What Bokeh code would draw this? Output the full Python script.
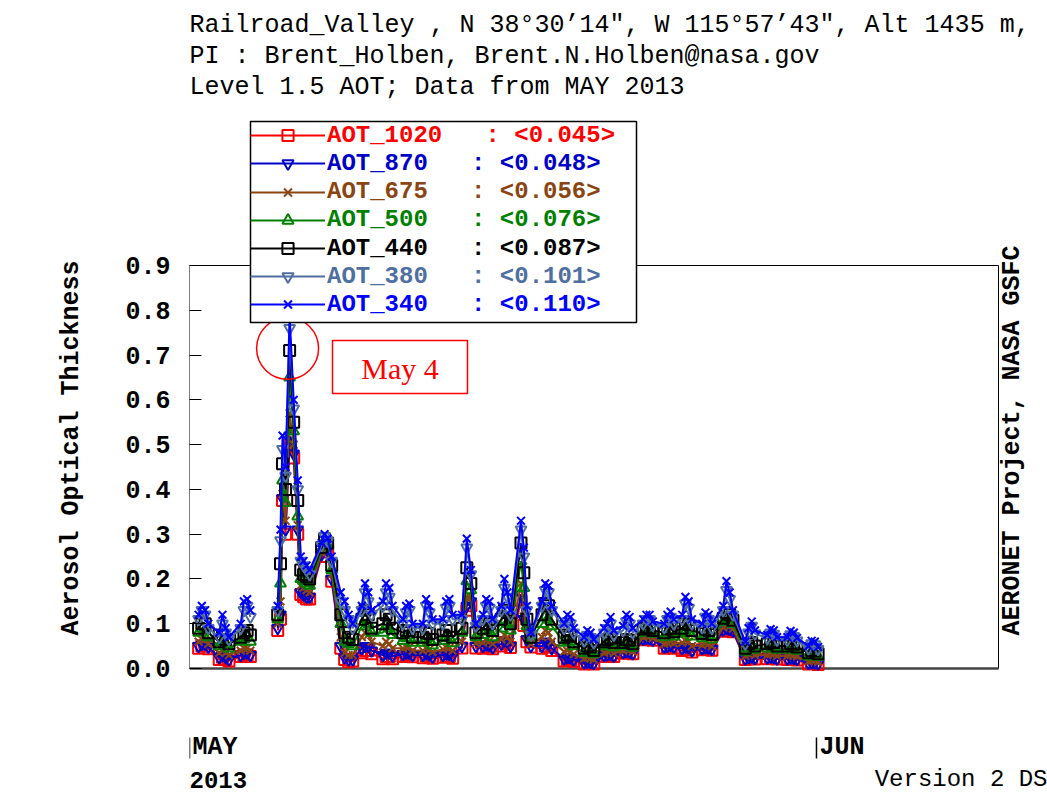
import math
import pandas as pd
from bokeh.plotting import figure
from bokeh.models import (Range1d, FixedTicker, PrintfTickFormatter, Title, Label,
                          Legend, LegendItem, BoxAnnotation, PolyAnnotation)
from bokeh.embed import file_html
from bokeh.resources import INLINE

# ---------------- texts ----------------
title_lines = [
    "Railroad_Valley , N 38\u00b030\u201914\", W 115\u00b057\u201943\", Alt 1435 m,",
    "PI : Brent_Holben, Brent.N.Holben@nasa.gov",
    "Level 1.5 AOT; Data from MAY 2013",
]
y_axis_title = "Aerosol Optical Thickness"
side_note = "AERONET Project, NASA GSFC"
version_note = "Version 2 DS"
year_label = "2013"
annot_text = "May 4"

# ---------------- axes ----------------
y_ticks = [0.0, 0.1, 0.2, 0.3, 0.4, 0.5, 0.6, 0.7, 0.8, 0.9]
x_tick_dates = ["2013-05-01", "2013-06-01"]
x_tick_labels = ["MAY", "JUN"]
x_box_start = "2013-05-01"
x_box_end = "2013-06-10"

# ---------------- series ----------------
series_names = ["AOT_1020", "AOT_870", "AOT_675", "AOT_500", "AOT_440", "AOT_380", "AOT_340"]
series_means = [0.045, 0.048, 0.056, 0.076, 0.087, 0.101, 0.110]
series_colors = ["#ff0000", "#0000c8", "#8b4513", "#008000", "#000000", "#4f6fa0", "#0000ff"]
series_markers = ["square", "inverted_triangle", "x", "triangle", "square", "inverted_triangle", "x"]

# observation time, decimal day of May 2013 (UTC)
obs_day = [
    1.45, 1.61, 1.77, 1.93,
    2.47, 2.63, 2.79, 2.95,
    3.53, 3.69, 3.85, 4.01,
    5.36, 5.50, 5.60, 5.75, 5.95, 6.15, 6.35,
    6.50, 6.64, 6.79, 6.94,
    7.53, 7.68, 7.83, 8.03,
    8.48, 8.67, 8.87, 9.07,
    9.52, 9.68, 9.84, 10.00,
    10.56, 10.72, 10.88, 11.04,
    11.55, 11.71, 11.87, 12.03,
    12.54, 12.70, 12.86, 13.02,
    13.53, 13.69, 13.85, 14.01,
    14.47, 14.71, 14.91, 15.16,
    15.51, 15.67, 15.83, 15.99,
    16.42, 16.57, 16.72, 16.87,
    17.39, 17.53, 17.68, 17.88,
    18.43, 18.59, 18.75, 18.91,
    19.52, 19.68, 19.84, 20.00,
    20.51, 20.67, 20.83, 20.99,
    21.50, 21.66, 21.82, 21.98,
    22.44, 22.60, 22.76, 22.92,
    23.43, 23.59, 23.75, 23.91,
    24.47, 24.63, 24.79, 24.95,
    25.36, 25.52, 25.68, 25.84,
    26.35, 26.51, 26.67, 26.83,
    27.39, 27.55, 27.71, 27.87,
    28.48, 28.64, 28.80, 28.96,
    29.57, 29.73, 29.89, 30.05,
    30.56, 30.72, 30.88, 31.04,
    31.60, 31.76, 31.92, 32.08,
]

aot_1020 = [
    0.045, 0.050, 0.050, 0.044,
    0.020, 0.025, 0.020, 0.017,
    0.027, 0.030, 0.030, 0.027,
    0.085, 0.110, 0.375, 0.300, 0.500, 0.470, 0.300,
    0.165, 0.160, 0.155, 0.155,
    0.250, 0.270, 0.260, 0.195,
    0.045, 0.020, 0.015, 0.017,
    0.035, 0.040, 0.040, 0.033,
    0.022, 0.027, 0.027, 0.022,
    0.027, 0.030, 0.030, 0.026,
    0.024, 0.028, 0.026, 0.023,
    0.025, 0.028, 0.027, 0.023,
    0.046, 0.130, 0.140, 0.046,
    0.045, 0.048, 0.048, 0.044,
    0.050, 0.058, 0.055, 0.047,
    0.152, 0.096, 0.060, 0.048,
    0.045, 0.050, 0.048, 0.040,
    0.017, 0.020, 0.019, 0.016,
    0.010, 0.012, 0.011, 0.010,
    0.027, 0.029, 0.030, 0.027,
    0.034, 0.036, 0.035, 0.033,
    0.064, 0.066, 0.065, 0.063,
    0.045, 0.047, 0.048, 0.045,
    0.040, 0.043, 0.042, 0.037,
    0.042, 0.044, 0.043, 0.041,
    0.083, 0.086, 0.085, 0.082,
    0.020, 0.022, 0.024, 0.021,
    0.022, 0.024, 0.023, 0.021,
    0.020, 0.022, 0.021, 0.019,
    0.010, 0.011, 0.011, 0.009,
]

aot_870 = [
    0.050, 0.055, 0.055, 0.048,
    0.025, 0.030, 0.025, 0.020,
    0.030, 0.035, 0.035, 0.030,
    0.090, 0.120, 0.380, 0.310, 0.520, 0.480, 0.310,
    0.170, 0.165, 0.160, 0.160,
    0.255, 0.275, 0.265, 0.200,
    0.050, 0.025, 0.020, 0.020,
    0.045, 0.050, 0.050, 0.040,
    0.030, 0.035, 0.035, 0.028,
    0.032, 0.035, 0.035, 0.030,
    0.030, 0.033, 0.031, 0.026,
    0.030, 0.033, 0.032, 0.028,
    0.050, 0.140, 0.150, 0.050,
    0.050, 0.053, 0.052, 0.047,
    0.055, 0.062, 0.060, 0.050,
    0.165, 0.110, 0.065, 0.050,
    0.050, 0.060, 0.055, 0.045,
    0.022, 0.025, 0.024, 0.020,
    0.013, 0.015, 0.014, 0.012,
    0.029, 0.031, 0.032, 0.028,
    0.036, 0.038, 0.037, 0.034,
    0.066, 0.068, 0.067, 0.064,
    0.048, 0.050, 0.052, 0.048,
    0.045, 0.048, 0.047, 0.040,
    0.045, 0.047, 0.046, 0.043,
    0.086, 0.090, 0.088, 0.084,
    0.022, 0.025, 0.026, 0.023,
    0.024, 0.026, 0.025, 0.022,
    0.022, 0.024, 0.023, 0.021,
    0.012, 0.013, 0.013, 0.011,
]

aot_675 = [
    0.060, 0.065, 0.065, 0.055,
    0.035, 0.040, 0.035, 0.030,
    0.040, 0.045, 0.045, 0.040,
    0.100, 0.150, 0.390, 0.330, 0.570, 0.500, 0.320,
    0.185, 0.180, 0.175, 0.170,
    0.260, 0.280, 0.270, 0.210,
    0.070, 0.035, 0.030, 0.030,
    0.070, 0.080, 0.075, 0.060,
    0.050, 0.060, 0.055, 0.045,
    0.045, 0.048, 0.048, 0.040,
    0.040, 0.045, 0.043, 0.037,
    0.043, 0.047, 0.046, 0.040,
    0.060, 0.160, 0.160, 0.056,
    0.058, 0.063, 0.062, 0.055,
    0.065, 0.075, 0.070, 0.060,
    0.190, 0.130, 0.075, 0.055,
    0.070, 0.085, 0.080, 0.060,
    0.038, 0.040, 0.038, 0.032,
    0.022, 0.025, 0.023, 0.020,
    0.035, 0.038, 0.040, 0.034,
    0.040, 0.043, 0.042, 0.038,
    0.070, 0.073, 0.072, 0.068,
    0.055, 0.058, 0.060, 0.056,
    0.058, 0.062, 0.060, 0.050,
    0.052, 0.056, 0.055, 0.050,
    0.092, 0.097, 0.095, 0.089,
    0.028, 0.032, 0.034, 0.030,
    0.030, 0.033, 0.032, 0.028,
    0.028, 0.031, 0.030, 0.027,
    0.016, 0.018, 0.018, 0.015,
]

aot_500 = [
    0.080, 0.090, 0.085, 0.070,
    0.050, 0.060, 0.055, 0.045,
    0.060, 0.065, 0.070, 0.060,
    0.110, 0.190, 0.420, 0.370, 0.650, 0.530, 0.340,
    0.200, 0.195, 0.190, 0.185,
    0.265, 0.285, 0.275, 0.220,
    0.100, 0.060, 0.055, 0.050,
    0.095, 0.110, 0.100, 0.080,
    0.080, 0.095, 0.090, 0.075,
    0.062, 0.068, 0.068, 0.058,
    0.058, 0.065, 0.062, 0.052,
    0.062, 0.068, 0.068, 0.057,
    0.080, 0.195, 0.175, 0.070,
    0.075, 0.085, 0.083, 0.070,
    0.090, 0.105, 0.100, 0.085,
    0.240, 0.180, 0.095, 0.065,
    0.100, 0.115, 0.110, 0.095,
    0.058, 0.062, 0.060, 0.050,
    0.035, 0.040, 0.038, 0.032,
    0.050, 0.054, 0.056, 0.048,
    0.050, 0.055, 0.053, 0.047,
    0.080, 0.084, 0.083, 0.078,
    0.070, 0.076, 0.078, 0.072,
    0.078, 0.082, 0.080, 0.072,
    0.068, 0.074, 0.072, 0.065,
    0.105, 0.112, 0.110, 0.100,
    0.038, 0.045, 0.048, 0.042,
    0.045, 0.050, 0.048, 0.042,
    0.042, 0.047, 0.045, 0.040,
    0.027, 0.031, 0.030, 0.026,
]

aot_440 = [
    0.090, 0.100, 0.100, 0.080,
    0.060, 0.075, 0.065, 0.055,
    0.070, 0.080, 0.085, 0.075,
    0.120, 0.234, 0.457, 0.400, 0.710, 0.550, 0.375,
    0.220, 0.210, 0.205, 0.200,
    0.270, 0.290, 0.280, 0.230,
    0.120, 0.080, 0.070, 0.065,
    0.110, 0.130, 0.120, 0.090,
    0.100, 0.120, 0.110, 0.090,
    0.080, 0.085, 0.085, 0.070,
    0.070, 0.080, 0.078, 0.065,
    0.075, 0.085, 0.085, 0.070,
    0.090, 0.225, 0.190, 0.080,
    0.090, 0.100, 0.100, 0.085,
    0.110, 0.130, 0.125, 0.100,
    0.280, 0.214, 0.110, 0.070,
    0.120, 0.145, 0.140, 0.110,
    0.070, 0.075, 0.072, 0.060,
    0.045, 0.050, 0.048, 0.040,
    0.060, 0.065, 0.068, 0.058,
    0.058, 0.065, 0.063, 0.055,
    0.088, 0.092, 0.090, 0.085,
    0.080, 0.088, 0.090, 0.082,
    0.090, 0.100, 0.098, 0.085,
    0.078, 0.088, 0.085, 0.076,
    0.112, 0.125, 0.120, 0.108,
    0.045, 0.055, 0.058, 0.050,
    0.055, 0.060, 0.058, 0.050,
    0.050, 0.056, 0.054, 0.048,
    0.035, 0.040, 0.039, 0.033,
]

aot_380 = [
    0.110, 0.130, 0.120, 0.090,
    0.070, 0.100, 0.080, 0.065,
    0.090, 0.130, 0.140, 0.115,
    0.130, 0.286, 0.490, 0.430, 0.760, 0.580, 0.400,
    0.240, 0.230, 0.220, 0.210,
    0.275, 0.295, 0.285, 0.240,
    0.150, 0.130, 0.110, 0.090,
    0.130, 0.170, 0.150, 0.120,
    0.140, 0.170, 0.160, 0.130,
    0.100, 0.125, 0.130, 0.090,
    0.090, 0.140, 0.125, 0.100,
    0.100, 0.135, 0.140, 0.110,
    0.110, 0.270, 0.210, 0.095,
    0.110, 0.140, 0.135, 0.100,
    0.130, 0.180, 0.160, 0.120,
    0.310, 0.250, 0.130, 0.075,
    0.140, 0.175, 0.170, 0.130,
    0.090, 0.105, 0.100, 0.080,
    0.062, 0.075, 0.070, 0.058,
    0.080, 0.090, 0.100, 0.075,
    0.085, 0.105, 0.100, 0.080,
    0.100, 0.110, 0.110, 0.097,
    0.092, 0.110, 0.115, 0.100,
    0.110, 0.145, 0.135, 0.100,
    0.092, 0.115, 0.110, 0.090,
    0.130, 0.175, 0.155, 0.120,
    0.055, 0.080, 0.095, 0.078,
    0.068, 0.080, 0.077, 0.064,
    0.064, 0.076, 0.072, 0.062,
    0.045, 0.056, 0.054, 0.043,
]

aot_340 = [
    0.120, 0.140, 0.130, 0.100,
    0.080, 0.120, 0.090, 0.070,
    0.100, 0.150, 0.155, 0.130,
    0.140, 0.310, 0.520, 0.450, 0.790, 0.600, 0.420,
    0.250, 0.240, 0.230, 0.220,
    0.280, 0.300, 0.290, 0.250,
    0.170, 0.150, 0.120, 0.100,
    0.140, 0.190, 0.170, 0.130,
    0.150, 0.190, 0.180, 0.140,
    0.110, 0.140, 0.145, 0.100,
    0.100, 0.155, 0.140, 0.110,
    0.110, 0.150, 0.155, 0.120,
    0.120, 0.290, 0.220, 0.100,
    0.120, 0.155, 0.150, 0.110,
    0.140, 0.200, 0.170, 0.130,
    0.330, 0.270, 0.140, 0.080,
    0.150, 0.190, 0.185, 0.140,
    0.100, 0.120, 0.115, 0.090,
    0.070, 0.085, 0.080, 0.065,
    0.090, 0.100, 0.115, 0.085,
    0.095, 0.120, 0.115, 0.090,
    0.110, 0.120, 0.120, 0.105,
    0.100, 0.120, 0.127, 0.110,
    0.120, 0.160, 0.150, 0.110,
    0.100, 0.125, 0.120, 0.100,
    0.140, 0.195, 0.170, 0.130,
    0.060, 0.090, 0.105, 0.085,
    0.075, 0.088, 0.085, 0.070,
    0.070, 0.084, 0.080, 0.068,
    0.050, 0.062, 0.060, 0.048,
]

series_values = [aot_1020, aot_870, aot_675, aot_500, aot_440, aot_380, aot_340]

# annotation (red circle) anchor: decimal day, AOT
circle_day = 5.85
circle_aot = 0.715

# ---------------- layout (pixels) ----------------
W, H = 1047, 794            # figure size (page has no margin)
FRAME_LEFT = 189            # frame left inside figure
FRAME_TOP = 101             # frame top inside figure (title lines above)
BOX_W_PX = 809              # width of the 40-day data box
BOX_DAYS = 40
Y0_PX = 126                 # AOT 0 above the frame bottom
PX_PER_AOT = 403 / 0.9

MS_PER_DAY = 86400000.0
base_ms = pd.Timestamp(x_box_start).value / 1e6


def day_ms(d):
    return base_ms + (d - 1.0) * MS_PER_DAY


def date_ms(s):
    return pd.Timestamp(s).value / 1e6


frame_w = W - FRAME_LEFT
frame_h = H - FRAME_TOP
px_per_day = BOX_W_PX / BOX_DAYS
x_start = base_ms
x_end = base_ms + frame_w / px_per_day * MS_PER_DAY
y_start = -Y0_PX / PX_PER_AOT
y_end = (frame_h - Y0_PX) / PX_PER_AOT


# picture pixel -> frame screen coords
def fx(px):
    return px - FRAME_LEFT


def fy(py):
    return H - py


MONO = "Liberation Mono"

p = figure(width=W, height=H, output_backend="svg", toolbar_location=None,
           title=None, x_range=Range1d(x_start, x_end), y_range=Range1d(y_start, y_end),
           x_axis_location=None, y_axis_location="left",
           min_border_left=FRAME_LEFT, min_border_top=FRAME_TOP,
           min_border_right=0, min_border_bottom=0,
           outline_line_color=None, background_fill_color="white",
           border_fill_color="white")
p.grid.visible = False

yax = p.yaxis[0]
yax.ticker = FixedTicker(ticks=y_ticks)
yax.formatter = PrintfTickFormatter(format="%.1f")
yax.major_tick_in = 12
yax.major_tick_out = 0
yax.minor_tick_in = 0
yax.minor_tick_out = 0
yax.axis_line_color = None
yax.major_tick_line_color = "black"
yax.major_label_standoff = 19
yax.major_label_text_font = MONO
yax.major_label_text_font_size = "25px"
yax.major_label_text_font_style = "bold"
yax.major_label_text_color = "black"
yax.axis_label = y_axis_title
yax.axis_label_standoff = 36
yax.axis_label_text_font = MONO
yax.axis_label_text_font_size = "25px"
yax.axis_label_text_font_style = "bold"
yax.axis_label_text_color = "black"

for txt in reversed(title_lines):
    p.add_layout(Title(text=txt, align="left", offset=0, standoff=0,
                       text_font=MONO, text_font_size="25px",
                       text_font_style="normal", text_color="black"), "above")

# data box
bx0, bx1 = date_ms(x_box_start), date_ms(x_box_end)
p.quad(left=[bx0], right=[bx1], bottom=[y_ticks[0]], top=[y_ticks[-1]],
       fill_color=None, line_color="black", line_width=1)
p.line([bx0, bx1], [y_ticks[0], y_ticks[0]], line_color="#444444", line_width=2.5)

# series
xs = [day_ms(d) for d in obs_day]
renderers = []
for name, color, marker, vals in zip(series_names, series_colors, series_markers, series_values):
    lx, ly = [], []
    for i, (x, v) in enumerate(zip(xs, vals)):
        if i > 0 and obs_day[i] - obs_day[i - 1] > 1.0:
            lx.append(float("nan"))
            ly.append(float("nan"))
        lx.append(x)
        ly.append(v)
    lr = p.line(lx, ly, line_color=color, line_width=2)
    sr = p.scatter(xs, vals, marker=marker, size=11, line_color=color,
                   fill_color=None, line_width=2)
    renderers.append((lr, sr))

# red circle annotation around the peak
p.scatter([day_ms(circle_day)], [circle_aot], marker="circle", size=62,
          fill_color=None, line_color="red", line_width=1.5)

# legend box
p.add_layout(BoxAnnotation(left=fx(250), right=fx(636), top=fy(121), bottom=fy(322),
                           left_units="screen", right_units="screen",
                           top_units="screen", bottom_units="screen",
                           fill_color="white", fill_alpha=1.0,
                           line_color="black", line_alpha=1.0, line_width=1.5))
LEG_TOP = 121
ROW_H = 28.2
for i, (name, mean, color) in enumerate(zip(series_names, series_means, series_colors)):
    lr, sr = renderers[i]
    leg = Legend(items=[LegendItem(label=f"{name}   : <{mean:.3f}>", renderers=[lr, sr])],
                 location=(fx(250), fy(LEG_TOP + ROW_H * (i + 1))),
                 padding=0, margin=0, spacing=0,
                 glyph_width=75, glyph_height=28, label_height=28, label_standoff=2,
                 border_line_color=None, background_fill_alpha=0,
                 label_text_font=MONO, label_text_font_size="24px",
                 label_text_font_style="bold", label_text_color=color)
    p.add_layout(leg)

# "May 4" box + text
p.add_layout(BoxAnnotation(left=fx(332), right=fx(467), top=fy(340), bottom=fy(393),
                           left_units="screen", right_units="screen",
                           top_units="screen", bottom_units="screen",
                           fill_alpha=0, line_color="red", line_alpha=1.0, line_width=1.5))
p.add_layout(Label(x=fx(399.5), y=fy(368), x_units="screen", y_units="screen",
                   text=annot_text, text_align="center", text_baseline="middle",
                   text_font="Liberation Serif", text_font_size="30px", text_color="red"))

# right side note
p.add_layout(Label(x=fx(1012), y=fy(440), x_units="screen", y_units="screen",
                   text=side_note, angle=math.pi / 2, text_align="center",
                   text_baseline="middle", text_font=MONO, text_font_size="25px",
                   text_font_style="bold", text_color="black"))

# month labels with small tick bars
for d, lab in zip(x_tick_dates, x_tick_labels):
    t = date_ms(d)
    p.add_layout(PolyAnnotation(xs=[t, t], ys=[fy(737), fy(758)], xs_units="data",
                                ys_units="screen", line_color="black", line_alpha=1.0,
                                line_width=1.5, fill_alpha=0))
    p.add_layout(Label(x=t, y=fy(747), x_units="data", y_units="screen", x_offset=3,
                       text=lab, text_align="left", text_baseline="middle",
                       text_font=MONO, text_font_size="25px", text_font_style="bold",
                       text_color="black"))

p.add_layout(Label(x=date_ms(x_tick_dates[0]), y=fy(779), x_units="data", y_units="screen",
                   text=year_label, text_align="left", text_baseline="middle",
                   text_font=MONO, text_font_size="24px", text_font_style="bold",
                   text_color="black"))
p.add_layout(Label(x=frame_w, y=fy(779), x_units="screen", y_units="screen",
                   text=version_note, text_align="right", text_baseline="middle",
                   text_font=MONO, text_font_size="24px", text_font_style="normal",
                   text_color="black"))

open("out.html", "w").write(file_html(p, INLINE))
